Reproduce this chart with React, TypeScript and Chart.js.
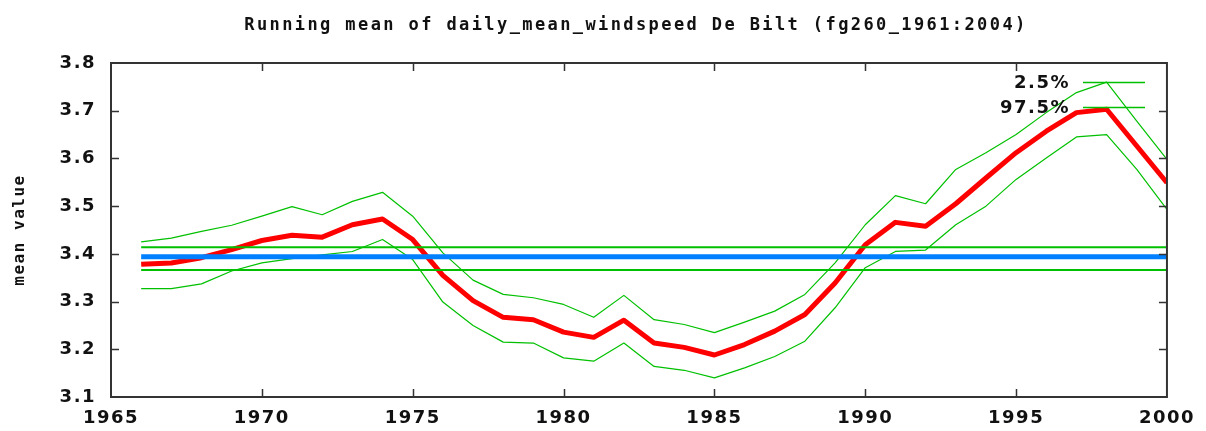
import React, { useEffect, useRef } from 'react';
import { Chart, registerables } from 'chart.js';

Chart.register(...registerables);

const TITLE = 'Running mean of daily_mean_windspeed De Bilt (fg260_1961:2004)';
const Y_AXIS_TITLE = 'mean value';

const YEARS = [
  1966, 1967, 1968, 1969, 1970, 1971, 1972, 1973, 1974, 1975,
  1976, 1977, 1978, 1979, 1980, 1981, 1982, 1983, 1984, 1985,
  1986, 1987, 1988, 1989, 1990, 1991, 1992, 1993, 1994, 1995,
  1996, 1997, 1998, 1999, 2000,
];

const RUNNING_MEAN = [
  3.378, 3.381, 3.392, 3.409, 3.428, 3.439, 3.435, 3.461, 3.473, 3.430,
  3.355, 3.302, 3.267, 3.262, 3.236, 3.225, 3.261, 3.213, 3.204, 3.188,
  3.210, 3.238, 3.273, 3.339, 3.419, 3.466, 3.458, 3.505, 3.559, 3.612,
  3.657, 3.696, 3.703, 3.626, 3.549,
];

const BAND_2_5 = [
  3.425, 3.433, 3.447, 3.460, 3.479, 3.499, 3.482, 3.510, 3.529, 3.479,
  3.402, 3.345, 3.315, 3.308, 3.294, 3.267, 3.313, 3.262, 3.252, 3.235,
  3.257, 3.280, 3.315, 3.381, 3.461, 3.522, 3.505, 3.577, 3.612, 3.650,
  3.696, 3.738, 3.760, 3.678, 3.598,
];

const BAND_97_5 = [
  3.327, 3.327, 3.337, 3.364, 3.381, 3.390, 3.398, 3.405, 3.430, 3.388,
  3.299, 3.250, 3.215, 3.213, 3.182, 3.175, 3.213, 3.164, 3.156, 3.140,
  3.161, 3.185, 3.217, 3.287, 3.371, 3.405, 3.408, 3.461, 3.500, 3.556,
  3.601, 3.645, 3.650, 3.577, 3.493,
];

const LEVEL_YEARS = [1966, 2000];
const LEVEL_MEAN = [3.394, 3.394];
const LEVEL_UPPER = [3.414, 3.414];
const LEVEL_LOWER = [3.366, 3.366];

const LEGEND_LABELS = ['2.5%', '97.5%'];

const X_MIN = 1965;
const X_MAX = 2000;
const X_STEP = 5;
const Y_MIN = 3.1;
const Y_MAX = 3.8;
const Y_STEP = 0.1;

const RED = '#ff0000';
const GREEN = '#00c000';
const BLUE = '#0080ff';
const INK = '#111111';
const FRAME = '#333333';
const MONO = '"DejaVu Sans Mono", monospace';
const SANS = '"DejaVu Sans", sans-serif';

const toPoints = (xs: number[], ys: number[]) => xs.map((x, i) => ({ x, y: ys[i] }));

const spacingPlugin = {
  id: 'letterSpacing',
  beforeUpdate(chart: any) {
    chart.ctx.letterSpacing = '1.5px';
  },
  beforeDraw(chart: any) {
    chart.ctx.letterSpacing = '1.5px';
  },
};

const framePlugin = {
  id: 'gnuFrame',
  afterDraw(chart: any) {
    const { ctx, chartArea, scales } = chart;
    const { left, right, top, bottom } = chartArea;
    ctx.save();
    ctx.strokeStyle = FRAME;
    ctx.lineWidth = 1.5;
    ctx.beginPath();
    const tl = 8;
    scales.x.ticks.forEach((t: any) => {
      const px = Math.round(scales.x.getPixelForValue(t.value)) + 0.5;
      if (px <= left + 1 || px >= right - 1) return;
      ctx.moveTo(px, bottom);
      ctx.lineTo(px, bottom - tl);
      ctx.moveTo(px, top);
      ctx.lineTo(px, top + tl);
    });
    scales.y.ticks.forEach((t: any) => {
      const py = Math.round(scales.y.getPixelForValue(t.value)) + 0.5;
      if (py <= top + 1 || py >= bottom - 1) return;
      ctx.moveTo(left, py);
      ctx.lineTo(left + tl, py);
      ctx.moveTo(right, py);
      ctx.lineTo(right - tl, py);
    });
    ctx.stroke();
    ctx.lineWidth = 2;
    ctx.strokeRect(left, top, right - left, bottom - top);

    // title
    ctx.fillStyle = INK;
    ctx.letterSpacing = '2.4px';
    ctx.font = `bold 17px ${MONO}`;
    ctx.textAlign = 'center';
    ctx.textBaseline = 'middle';
    ctx.fillText(TITLE, (left + right) / 2 - 3, 26);

    // legend
    ctx.letterSpacing = '1.5px';
    ctx.font = `bold 18px ${SANS}`;
    const legendSets = chart.data.datasets.filter((d: any) => LEGEND_LABELS.includes(d.label));
    legendSets.forEach((d: any, i: number) => {
      const y = 82 + i * 25;
      ctx.textAlign = 'right';
      ctx.fillStyle = INK;
      ctx.fillText(d.label, 1070, y + 1);
      ctx.strokeStyle = d.borderColor;
      ctx.lineWidth = 1.5;
      ctx.beginPath();
      ctx.moveTo(1083, y + 0.5);
      ctx.lineTo(1145, y + 0.5);
      ctx.stroke();
    });
    ctx.restore();
  },
};

export default function App() {
  const canvasRef = useRef<HTMLCanvasElement | null>(null);

  useEffect(() => {
    if (!canvasRef.current) return;
    const lineBase = { pointRadius: 0, tension: 0, fill: false, borderJoinStyle: 'round' as const };
    const chart = new Chart(canvasRef.current, {
      type: 'line',
      data: {
        datasets: [
          { ...lineBase, label: 'mean level', data: toPoints(LEVEL_YEARS, LEVEL_MEAN), borderColor: BLUE, borderWidth: 5, order: 0 },
          { ...lineBase, label: 'level upper', data: toPoints(LEVEL_YEARS, LEVEL_UPPER), borderColor: GREEN, borderWidth: 2, order: 1 },
          { ...lineBase, label: 'level lower', data: toPoints(LEVEL_YEARS, LEVEL_LOWER), borderColor: GREEN, borderWidth: 2, order: 1 },
          { ...lineBase, label: 'running mean', data: toPoints(YEARS, RUNNING_MEAN), borderColor: RED, borderWidth: 5, order: 2 },
          { ...lineBase, label: '2.5%', data: toPoints(YEARS, BAND_2_5), borderColor: GREEN, borderWidth: 1.2, order: 3 },
          { ...lineBase, label: '97.5%', data: toPoints(YEARS, BAND_97_5), borderColor: GREEN, borderWidth: 1.2, order: 3 },
        ],
      },
      options: {
        animation: false,
        responsive: true,
        maintainAspectRatio: false,
        layout: { padding: { left: 0, right: 34, top: 63, bottom: 0 } },
        plugins: {
          legend: { display: false },
          title: { display: false },
          tooltip: { enabled: false },
        },
        scales: {
          x: {
            type: 'linear',
            min: X_MIN,
            max: X_MAX,
            grid: { display: false, drawTicks: false },
            border: { display: false },
            ticks: {
              stepSize: X_STEP,
              padding: 11,
              color: INK,
              font: { family: SANS, size: 18, weight: 'bold' },
              callback: (v: any) => String(v),
              maxRotation: 0,
            },
            afterFit: (s: any) => { s.height = 34; },
          },
          y: {
            type: 'linear',
            min: Y_MIN,
            max: Y_MAX,
            grid: { display: false, drawTicks: false },
            border: { display: false },
            ticks: {
              stepSize: Y_STEP,
              padding: 15,
              color: INK,
              font: { family: SANS, size: 18, weight: 'bold' },
              callback: (v: any) => Number(v).toFixed(1),
            },
            title: {
              display: true,
              text: Y_AXIS_TITLE,
              color: INK,
              font: { family: MONO, size: 16, weight: 'bold' },
              padding: { top: 10, bottom: 0 },
            },
            afterFit: (s: any) => { s.width = 111; },
          },
        },
      },
      plugins: [spacingPlugin, framePlugin],
    });
    return () => chart.destroy();
  }, []);

  return (
    <div style={{ position: 'absolute', left: 0, top: 0, width: 1206, height: 431, background: '#fff' }}>
      <canvas ref={canvasRef} />
    </div>
  );
}
